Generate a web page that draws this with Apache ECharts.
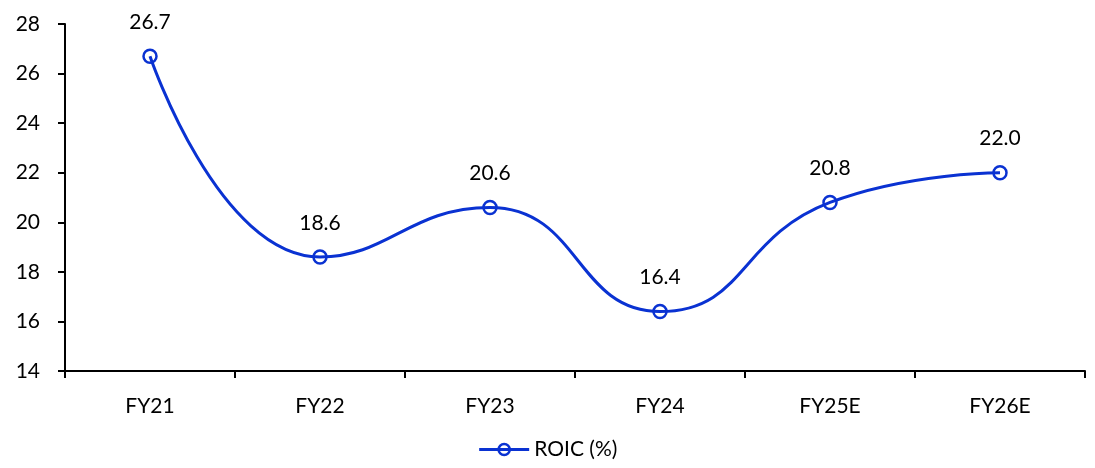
<!DOCTYPE html>
<html>
<head>
<meta charset="utf-8">
<script src="https://cdn.jsdelivr.net/npm/echarts@6/dist/echarts.min.js"></script>
<style>
  html, body { margin: 0; padding: 0; background: #ffffff; }
  #chart { width: 1095px; height: 468px; }
</style>
</head>
<body>
<div id="chart"></div>
<script>
// Fiscal years on the category axis
const years = ['FY21', 'FY22', 'FY23', 'FY24', 'FY25E', 'FY26E'];
// Return on invested capital, percent
const roic = [26.7, 18.6, 20.6, 16.4, 20.8, 22.0];
// Value axis range
const yMin = 14;
const yMax = 28;
const yStep = 2;

const FONT = 'Lato, "Open Sans", sans-serif';
const BLUE = '#0a32d2';

const chart = echarts.init(document.getElementById('chart'), null, { renderer: 'canvas' });
chart.setOption({
  animation: false,
  backgroundColor: '#ffffff',
  grid: { left: 65, right: 10, top: 24, bottom: 97, containLabel: false },
  legend: {
    bottom: 3,
    left: 'center',
    itemWidth: 50,
    itemHeight: 14,
    itemGap: 8,
    textStyle: { fontFamily: FONT, fontSize: 21, color: '#000' },
    data: [{
      name: 'ROIC (%)',
      itemStyle: { color: 'rgba(0,0,0,0)', borderColor: BLUE, borderWidth: 2.5 },
      lineStyle: { color: BLUE, width: 3 }
    }]
  },
  xAxis: {
    type: 'category',
    data: years,
    boundaryGap: true,
    axisLine: { lineStyle: { color: '#000', width: 2 } },
    axisTick: { show: true, length: 7, lineStyle: { color: '#000', width: 2 } },
    axisLabel: { fontFamily: FONT, fontSize: 21, color: '#000', margin: 25 },
    splitLine: { show: false }
  },
  yAxis: {
    type: 'value',
    min: yMin,
    max: yMax,
    interval: yStep,
    axisLine: { show: true, lineStyle: { color: '#000', width: 2 } },
    axisTick: { show: true, length: 7, lineStyle: { color: '#000', width: 2 } },
    axisLabel: { fontFamily: FONT, fontSize: 21, color: '#000', margin: 25 },
    splitLine: { show: false }
  },
  series: [{
    name: 'ROIC (%)',
    type: 'line',
    data: roic,
    smooth: 0.5,
    symbol: 'circle',
    symbolSize: 13,
    lineStyle: { color: BLUE, width: 3 },
    itemStyle: { color: 'rgba(0,0,0,0)', borderColor: BLUE, borderWidth: 2.5 },
    label: {
      show: true,
      position: 'top',
      distance: 16,
      formatter: p => p.value.toFixed(1),
      fontFamily: FONT,
      fontSize: 21,
      color: '#000'
    }
  }]
});
</script>
</body>
</html>
